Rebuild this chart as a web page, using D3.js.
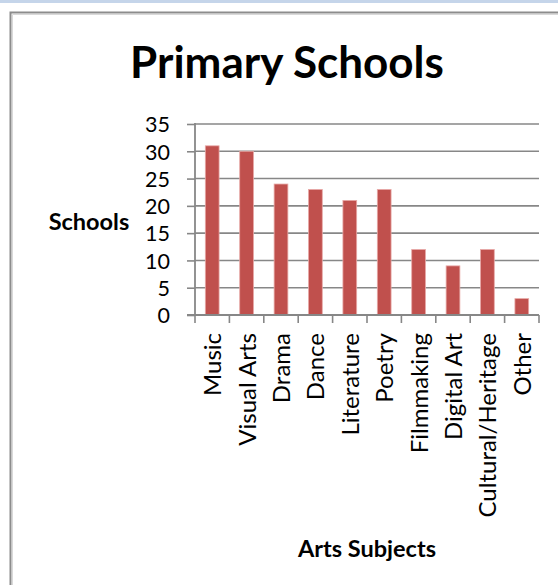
<!DOCTYPE html>
<html>
<head>
<meta charset="utf-8">
<script src="https://cdn.jsdelivr.net/npm/d3@7"></script>
<style>
  html, body { margin: 0; padding: 0; background: #fff; }
  svg { display: block; }
</style>
</head>
<body>
<svg id="chart" width="558" height="585"></svg>
<script>
// Arts subjects offered by primary schools
const subjects = ["Music", "Visual Arts", "Drama", "Dance", "Literature", "Poetry",
                  "Filmmaking", "Digital Art", "Cultural/Heritage", "Other"];
const schoolCounts = [31, 30, 24, 23, 21, 23, 12, 9, 12, 3];
const yTicks = [0, 5, 10, 15, 20, 25, 30, 35];

const font = "Lato, 'Open Sans', sans-serif";
const gridGrey = "#878787";
const svg = d3.select("#chart");

// window strip and chart frame
svg.append("rect").attr("x", 0).attr("y", 0).attr("width", 558).attr("height", 3)
  .attr("fill", "#c5d5ea");
svg.append("path")
  .attr("d", "M10.5,585 V12.5 H558")
  .attr("fill", "none").attr("stroke", "#8c8c8c").attr("stroke-width", 2);
svg.append("path")
  .attr("d", "M12.5,585 V14.5 H558")
  .attr("fill", "none").attr("stroke", "#d9d9d9").attr("stroke-width", 1);

const plot = { left: 195, right: 539, top: 124, bottom: 315 };

const x = d3.scaleBand().domain(subjects).range([plot.left, plot.right]).paddingInner(0).paddingOuter(0);
const y = d3.scaleLinear().domain([0, 35]).range([plot.bottom, plot.top]);

// horizontal gridlines
svg.append("g").selectAll("line").data(yTicks.filter(d => d > 0)).join("line")
  .attr("x1", plot.left).attr("x2", plot.right)
  .attr("y1", d => y(d)).attr("y2", d => y(d))
  .attr("stroke", gridGrey).attr("stroke-width", 1.6);

// bars
const barW = x.bandwidth() / 2.5;
svg.append("g").selectAll("rect").data(subjects).join("rect")
  .attr("x", d => x(d) + (x.bandwidth() - barW) / 2)
  .attr("y", (d, i) => y(schoolCounts[i]))
  .attr("width", barW)
  .attr("height", (d, i) => y(0) - y(schoolCounts[i]))
  .attr("fill", "#c0504d")
  .attr("stroke", "#e8a9a7").attr("stroke-width", 0.8);

// y axis
const yAxis = svg.append("g").attr("transform", `translate(${plot.left},0)`)
  .call(d3.axisLeft(y).tickValues(yTicks).tickSize(8).tickPadding(17));
yAxis.select(".domain").attr("stroke", gridGrey).attr("stroke-width", 1.8)
  .attr("d", `M0,${plot.top - 1}V${plot.bottom}`);
yAxis.selectAll(".tick line").attr("stroke", gridGrey).attr("stroke-width", 1.6);
yAxis.selectAll(".tick text").attr("fill", "#000").attr("font-family", font)
  .attr("font-size", 21.5).attr("dy", "0.36em");

// x axis: ticks sit on category boundaries
const xAxisG = svg.append("g").attr("transform", `translate(0,${plot.bottom})`);
xAxisG.append("line").attr("x1", plot.left - 8).attr("x2", plot.right)
  .attr("y1", 0).attr("y2", 0).attr("stroke", gridGrey).attr("stroke-width", 1.8);
const boundaries = subjects.map(d => x(d)).concat([plot.right]);
xAxisG.selectAll("line.tk").data(boundaries).join("line").attr("class", "tk")
  .attr("x1", d => d).attr("x2", d => d)
  .attr("y1", 0).attr("y2", 8)
  .attr("stroke", gridGrey).attr("stroke-width", 1.6);
xAxisG.selectAll("text").data(subjects).join("text")
  .attr("transform", d => `translate(${x(d) + x.bandwidth() / 2 + 9},18) rotate(-90)`)
  .attr("text-anchor", "end")
  .attr("font-family", font).attr("font-size", 24).attr("fill", "#000")
  .text(d => d);

// titles
svg.append("text").attr("x", 287).attr("y", 78).attr("text-anchor", "middle")
  .attr("font-family", font).attr("font-weight", "bold").attr("font-size", 44)
  .text("Primary Schools");
svg.append("text").attr("x", 89).attr("y", 230).attr("text-anchor", "middle")
  .attr("font-family", font).attr("font-weight", "bold").attr("font-size", 23.5)
  .text("Schools");
svg.append("text").attr("x", 367).attr("y", 557).attr("text-anchor", "middle")
  .attr("font-family", font).attr("font-weight", "bold").attr("font-size", 23.5)
  .text("Arts Subjects");
</script>
</body>
</html>
